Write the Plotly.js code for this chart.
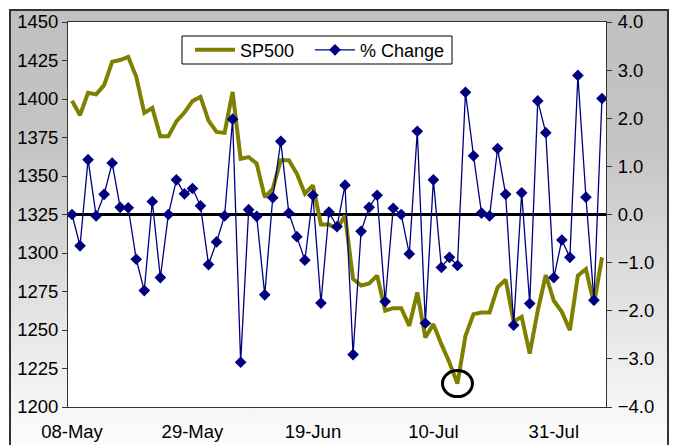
<!DOCTYPE html>
<html>
<head>
<meta charset="utf-8">
<script src="https://cdn.plot.ly/plotly-3.0.1.min.js"></script>
<style>
  html, body { margin: 0; padding: 0; background: #ffffff; width: 678px; height: 445px; overflow: hidden; }
  #frame { position: absolute; left: 9px; top: 9px; width: 656px; height: 445px;
           border: 2px solid #333333; border-bottom: none;
           background: linear-gradient(to bottom, #c0c0c0 0%, #c4c4c4 30%, #ffffff 100%); }
  #chart { position: absolute; left: 0; top: 0; width: 678px; height: 445px; }
</style>
</head>
<body>
<div id="frame"></div>
<div id="chart"></div>
<script>
// Trading days (weekdays) 8 May - 8 Aug
const dates = ["08-May","09-May","12-May","13-May","14-May","15-May","16-May","19-May","20-May","21-May",
  "22-May","23-May","26-May","27-May","28-May","29-May","30-May","02-Jun","03-Jun","04-Jun",
  "05-Jun","06-Jun","09-Jun","10-Jun","11-Jun","12-Jun","13-Jun","16-Jun","17-Jun","18-Jun",
  "19-Jun","20-Jun","23-Jun","24-Jun","25-Jun","26-Jun","27-Jun","30-Jun","01-Jul","02-Jul",
  "03-Jul","04-Jul","07-Jul","08-Jul","09-Jul","10-Jul","11-Jul","14-Jul","15-Jul","16-Jul",
  "17-Jul","18-Jul","21-Jul","22-Jul","23-Jul","24-Jul","25-Jul","28-Jul","29-Jul","30-Jul",
  "31-Jul","01-Aug","04-Aug","05-Aug","06-Aug","07-Aug","08-Aug"];

const sp500 = [1398.8, 1389.5, 1404.0, 1403.0, 1409.0, 1424.2, 1425.3, 1427.4, 1414.4, 1391.0,
  1394.2, 1375.8, 1375.8, 1385.5, 1391.2, 1398.6, 1401.4, 1386.0, 1378.6, 1378.0,
  1404.6, 1361.2, 1362.3, 1358.0, 1336.3, 1341.7, 1360.2, 1360.2, 1351.5, 1338.5,
  1343.9, 1318.5, 1318.5, 1315.5, 1324.3, 1283.1, 1278.8, 1280.3, 1285.3, 1262.5,
  1264.2, 1264.2, 1252.7, 1274.4, 1245.1, 1253.8, 1240.8, 1228.9, 1215.2, 1246.2,
  1260.3, 1261.4, 1261.4, 1277.7, 1282.7, 1255.6, 1258.6, 1234.7, 1262.5, 1285.7,
  1269.0, 1261.8, 1249.9, 1285.3, 1289.6, 1266.8, 1297.2];

const pctChange = [0.00, -0.65, 1.14, -0.03, 0.42, 1.07, 0.15, 0.14, -0.93, -1.58,
  0.27, -1.31, 0.00, 0.72, 0.43, 0.54, 0.18, -1.04, -0.57, -0.03,
  1.98, -3.07, 0.10, -0.04, -1.67, 0.35, 1.52, 0.03, -0.46, -0.95,
  0.40, -1.84, 0.05, -0.25, 0.61, -2.91, -0.35, 0.15, 0.40, -1.81,
  0.13, 0.00, -0.82, 1.73, -2.26, 0.72, -1.10, -0.89, -1.06, 2.54,
  1.22, 0.03, -0.03, 1.37, 0.42, -2.30, 0.45, -1.85, 2.36, 1.70,
  -1.31, -0.53, -0.89, 2.89, 0.36, -1.78, 2.41];

const labelEvery = 15;
const leftTicks = [1200, 1225, 1250, 1275, 1300, 1325, 1350, 1375, 1400, 1425, 1450];
const rightTicks = [-4, -3, -2, -1, 0, 1, 2, 3, 4];

const n = dates.length;
const labelIdx = [];
for (let i = 0; i < n; i += labelEvery) labelIdx.push(i);
const tickVals = labelIdx.map(i => dates[i]);
const boundaryVals = labelIdx.map(i => i - 0.5);
const xr = [-0.5, n - 0.5];

let minIdx = 0;
sp500.forEach((v, i) => { if (v < sp500[minIdx]) minIdx = i; });

const FONT = "Liberation Sans, Arial, sans-serif";
const FS = 18.5;
const LFS = 18;
const AX = "#333333";

const traces = [
  { x: dates, y: sp500, name: "SP500", type: "scatter", mode: "lines",
    line: { color: "#808000", width: 4 }, xaxis: "x", yaxis: "y", legend: "legend" },
  { x: dates, y: pctChange, name: "% Change", type: "scatter", mode: "lines+markers",
    line: { color: "#000080", width: 1.3 },
    marker: { symbol: "diamond", size: 9, color: "#000080" }, xaxis: "x", yaxis: "y2", legend: "legend2" }
];

const tickAxis = (extra) => Object.assign({
  showline: false, showgrid: false, zeroline: false, showticklabels: false,
  ticklen: 5, tickwidth: 1, tickcolor: AX, fixedrange: true
}, extra);

const legendBase = { orientation: "h", yanchor: "middle", xanchor: "left", y: 0.927,
  bgcolor: "rgba(0,0,0,0)", borderwidth: 0, itemwidth: 40,
  font: { family: FONT, size: LFS, color: "#000000" } };

const layout = {
  width: 678, height: 445,
  margin: { l: 68, r: 72, t: 22, b: 38 },
  paper_bgcolor: "rgba(0,0,0,0)",
  plot_bgcolor: "#ffffff",
  font: { family: FONT, size: FS, color: "#000000" },
  showlegend: true,
  legend: Object.assign({}, legendBase, { x: 0.2268 }),
  legend2: Object.assign({}, legendBase, { x: 0.4498 }),
  xaxis: { type: "category", range: xr, tickmode: "array", tickvals: tickVals, ticktext: tickVals,
           ticks: "", showline: true, mirror: true, linecolor: AX, linewidth: 1, ticklabelstandoff: 8,
           showgrid: false, zeroline: false, tickfont: { size: FS }, fixedrange: true },
  xaxis2: tickAxis({ overlaying: "x", anchor: "y", side: "bottom", type: "linear", range: xr,
           tickmode: "array", tickvals: boundaryVals, ticks: "outside" }),
  xaxis3: tickAxis({ overlaying: "x", anchor: "y", side: "bottom", type: "linear", range: xr,
           tickmode: "array", tickvals: boundaryVals, ticks: "inside" }),
  yaxis: { range: [1200, 1450], tickmode: "array", tickvals: leftTicks, ticks: "outside", ticklen: 5,
           tickcolor: AX, showline: true, linecolor: AX, linewidth: 1, showgrid: false, zeroline: false,
           tickfont: { size: FS }, fixedrange: true },
  yaxis3: tickAxis({ overlaying: "y", anchor: "x", side: "left", range: [1200, 1450],
           tickmode: "array", tickvals: leftTicks, ticks: "inside" }),
  yaxis2: { overlaying: "y", anchor: "x", side: "right", range: [-4, 4], tickmode: "array",
           tickvals: rightTicks, tickformat: ".1f", ticksuffix: "%", ticks: "outside", ticklen: 5,
           tickcolor: AX, showline: true, linecolor: AX, linewidth: 1, showgrid: false,
           zeroline: true, zerolinecolor: "#000000", zerolinewidth: 3.5, ticklabelstandoff: 2,
           tickfont: { size: FS }, fixedrange: true },
  yaxis4: tickAxis({ overlaying: "y", anchor: "x", side: "right", range: [-4, 4],
           tickmode: "array", tickvals: rightTicks, ticks: "inside" }),
  shapes: [
    { type: "rect", xref: "paper", yref: "paper", x0: 0.2119, x1: 0.7138, y0: 0.8909, y1: 0.9636,
      line: { color: "#000000", width: 1 }, fillcolor: "#ffffff", layer: "above" },
    { type: "circle", xref: "x", yref: "y", xsizemode: "pixel", ysizemode: "pixel",
      xanchor: minIdx, yanchor: sp500[minIdx], x0: -15, x1: 15, y0: -13, y1: 13,
      line: { color: "#000000", width: 3 }, fillcolor: "rgba(0,0,0,0)" }
  ]
};

Plotly.newPlot("chart", traces, layout, { displayModeBar: false, staticPlot: true });
</script>
</body>
</html>
